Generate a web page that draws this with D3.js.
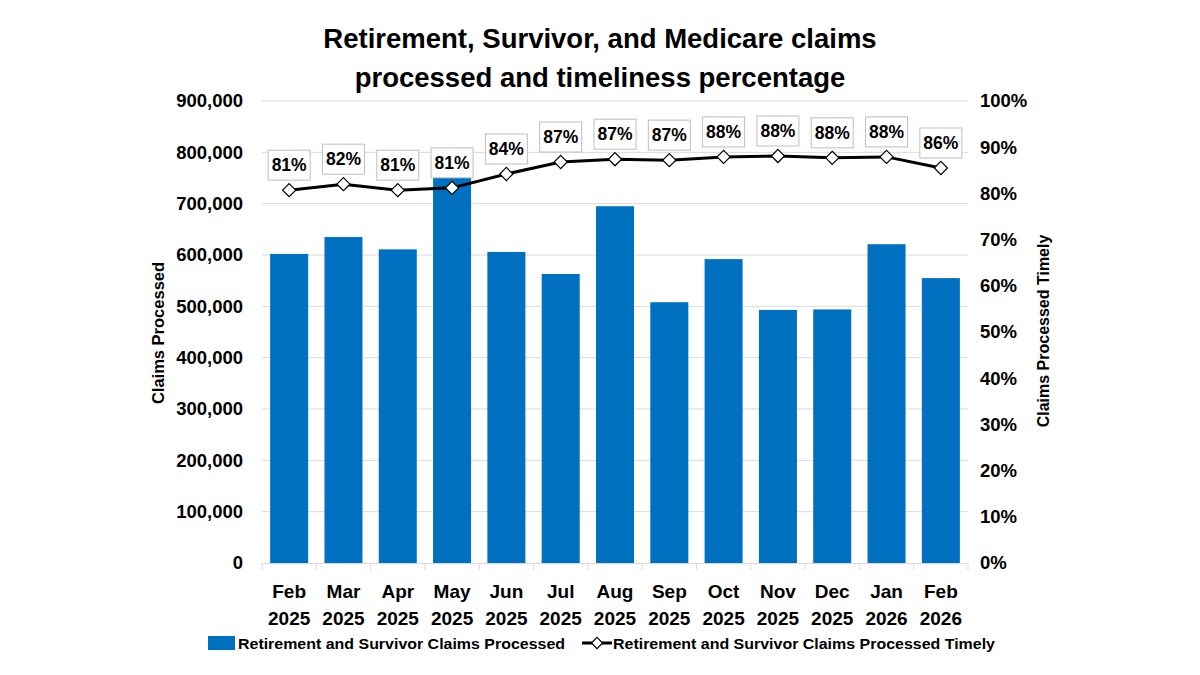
<!DOCTYPE html>
<html>
<head>
<meta charset="utf-8">
<script src="https://cdn.jsdelivr.net/npm/d3@7"></script>
<style>
body { margin: 0; background: #fff; }
text { font-family: "Liberation Sans", Arial, sans-serif; }
</style>
</head>
<body>
<script>
// values
var months = ["Feb 2025", "Mar 2025", "Apr 2025", "May 2025", "Jun 2025", "Jul 2025", "Aug 2025",
              "Sep 2025", "Oct 2025", "Nov 2025", "Dec 2025", "Jan 2026", "Feb 2026"]
var claims = [602000, 635000, 611000, 770000, 606000, 563000, 695000, 508000, 592000, 493000, 494000, 621000, 555000]
var timely = [80.7, 82.0, 80.7, 81.2, 84.2, 86.8, 87.4, 87.2, 87.9, 88.1, 87.7, 87.9, 85.5]
var timelyLabels = ["81%", "82%", "81%", "81%", "84%", "87%", "87%", "87%", "88%", "88%", "88%", "88%", "86%"]
var leftTicks = [0, 100000, 200000, 300000, 400000, 500000, 600000, 700000, 800000, 900000]
var rightTicks = [0, 10, 20, 30, 40, 50, 60, 70, 80, 90, 100]

var W = 1200, H = 675
var plot = {left: 262, right: 968, top: 101, bottom: 563}
var blue = "#0070c0"

var svg = d3.select("body").append("svg")
    .attr("width", W)
    .attr("height", H)

var xscale = d3.scaleBand()
    .domain(months)
    .range([plot.left, plot.right])
    .paddingInner(0.3)
    .paddingOuter(0.15)

var yscale = d3.scaleLinear().domain([0, 900000]).range([plot.bottom, plot.top])
var y2scale = d3.scaleLinear().domain([0, 100]).range([plot.bottom, plot.top])

// title
svg.append("text").attr("x", 600).attr("y", 48).attr("text-anchor", "middle")
    .attr("font-size", 27.5).attr("font-weight", "bold").text("Retirement, Survivor, and Medicare claims")
svg.append("text").attr("x", 600).attr("y", 87).attr("text-anchor", "middle")
    .attr("font-size", 27.5).attr("font-weight", "bold").text("processed and timeliness percentage")

// gridlines
svg.append("g").selectAll("line")
    .data(leftTicks.slice(1))
    .enter().append("line")
    .attr("x1", plot.left).attr("x2", plot.right)
    .attr("y1", function (d) { return yscale(d) })
    .attr("y2", function (d) { return yscale(d) })
    .attr("stroke", "#d9d9d9").attr("stroke-width", 1)

// left axis
var leftAxis = d3.axisLeft(yscale).tickValues(leftTicks).tickSize(0).tickPadding(19)
    .tickFormat(d3.format(","))
var gl = svg.append("g").attr("transform", "translate(" + plot.left + ",0)").call(leftAxis)
gl.select(".domain").remove()
gl.selectAll("text").attr("font-size", 18.5).attr("font-weight", "bold").attr("fill", "#000")
    .style("font-family", "'Liberation Sans', Arial, sans-serif")

// right axis
var rightAxis = d3.axisRight(y2scale).tickValues(rightTicks).tickSize(0).tickPadding(12)
    .tickFormat(function (d) { return d + "%" })
var gr = svg.append("g").attr("transform", "translate(" + plot.right + ",0)").call(rightAxis)
gr.select(".domain").remove()
gr.selectAll("text").attr("font-size", 18.5).attr("font-weight", "bold").attr("fill", "#000")
    .style("font-family", "'Liberation Sans', Arial, sans-serif")

// axis titles
svg.append("text").attr("transform", "translate(164,333) rotate(-90)").attr("text-anchor", "middle")
    .attr("font-size", 16.5).attr("font-weight", "bold").text("Claims Processed")
svg.append("text").attr("transform", "translate(1049,331) rotate(-90)").attr("text-anchor", "middle")
    .attr("font-size", 16).attr("font-weight", "bold").text("Claims Processed Timely")

// bars
svg.append("g").selectAll("rect")
    .data(claims)
    .enter().append("rect")
    .attr("x", function (d, i) { return xscale(months[i]) })
    .attr("width", xscale.bandwidth())
    .attr("y", function (d) { return yscale(d) })
    .attr("height", function (d) { return yscale(0) - yscale(d) })
    .attr("fill", blue)

// x axis line and ticks between categories
svg.append("line").attr("x1", plot.left).attr("x2", plot.right)
    .attr("y1", plot.bottom + 0.5).attr("y2", plot.bottom + 0.5)
    .attr("stroke", "#d9d9d9")
svg.append("g").selectAll("line")
    .data(d3.range(months.length + 1))
    .enter().append("line")
    .attr("x1", function (i) { return plot.left + i * (plot.right - plot.left) / months.length })
    .attr("x2", function (i) { return plot.left + i * (plot.right - plot.left) / months.length })
    .attr("y1", plot.bottom).attr("y2", plot.bottom + 7)
    .attr("stroke", "#d9d9d9")

// x labels, two lines
var xl = svg.append("g").selectAll("g")
    .data(months)
    .enter().append("g")
    .attr("transform", function (d) { return "translate(" + (xscale(d) + xscale.bandwidth() / 2) + ",0)" })
xl.append("text")
    .attr("text-anchor", "middle").attr("y", 598)
    .attr("font-size", 19).attr("font-weight", "bold")
    .text(function (d) { return d.split(" ")[0] })
xl.append("text")
    .attr("text-anchor", "middle").attr("y", 625)
    .attr("font-size", 19).attr("font-weight", "bold")
    .text(function (d) { return d.split(" ")[1] })

// line series
var cx = function (i) { return xscale(months[i]) + xscale.bandwidth() / 2 }
var line = d3.line()
    .x(function (d, i) { return cx(i) })
    .y(function (d) { return y2scale(d) })
svg.append("path").datum(timely)
    .attr("d", line)
    .attr("fill", "none").attr("stroke", "#000").attr("stroke-width", 3)

var diamond = d3.symbol().type(d3.symbolDiamond2).size(110)
svg.append("g").selectAll("path")
    .data(timely)
    .enter().append("path")
    .attr("d", diamond)
    .attr("transform", function (d, i) { return "translate(" + cx(i) + "," + y2scale(d) + ")" })
    .attr("fill", "#fff").attr("stroke", "#000").attr("stroke-width", 1.2)

// data label boxes
var lab = svg.append("g").selectAll("g")
    .data(timely)
    .enter().append("g")
    .attr("transform", function (d, i) { return "translate(" + cx(i) + "," + (y2scale(d) - 25) + ")" })
lab.append("rect")
    .attr("x", -21).attr("y", -15).attr("width", 42).attr("height", 30)
    .attr("fill", "#fff").attr("stroke", "#bfbfbf").attr("stroke-width", 1)
lab.append("text")
    .attr("text-anchor", "middle").attr("y", 6)
    .attr("font-size", 17.5).attr("font-weight", "bold")
    .text(function (d, i) { return timelyLabels[i] })

// legend
var lg = svg.append("g")
lg.append("rect").attr("x", 208).attr("y", 636).attr("width", 27).attr("height", 14).attr("fill", blue)
lg.append("text").attr("x", 238).attr("y", 649)
    .attr("font-size", 15.5).attr("font-weight", "bold")
    .attr("textLength", 327).attr("lengthAdjust", "spacingAndGlyphs")
    .text("Retirement and Survivor Claims Processed")
lg.append("line").attr("x1", 582).attr("x2", 612).attr("y1", 643).attr("y2", 643)
    .attr("stroke", "#000").attr("stroke-width", 3)
lg.append("path").attr("d", d3.symbol().type(d3.symbolDiamond2).size(80))
    .attr("transform", "translate(597,643)")
    .attr("fill", "#fff").attr("stroke", "#000").attr("stroke-width", 1.2)
lg.append("text").attr("x", 613).attr("y", 649)
    .attr("font-size", 15.5).attr("font-weight", "bold")
    .attr("textLength", 382).attr("lengthAdjust", "spacingAndGlyphs")
    .text("Retirement and Survivor Claims Processed Timely")
</script>
</body>
</html>
